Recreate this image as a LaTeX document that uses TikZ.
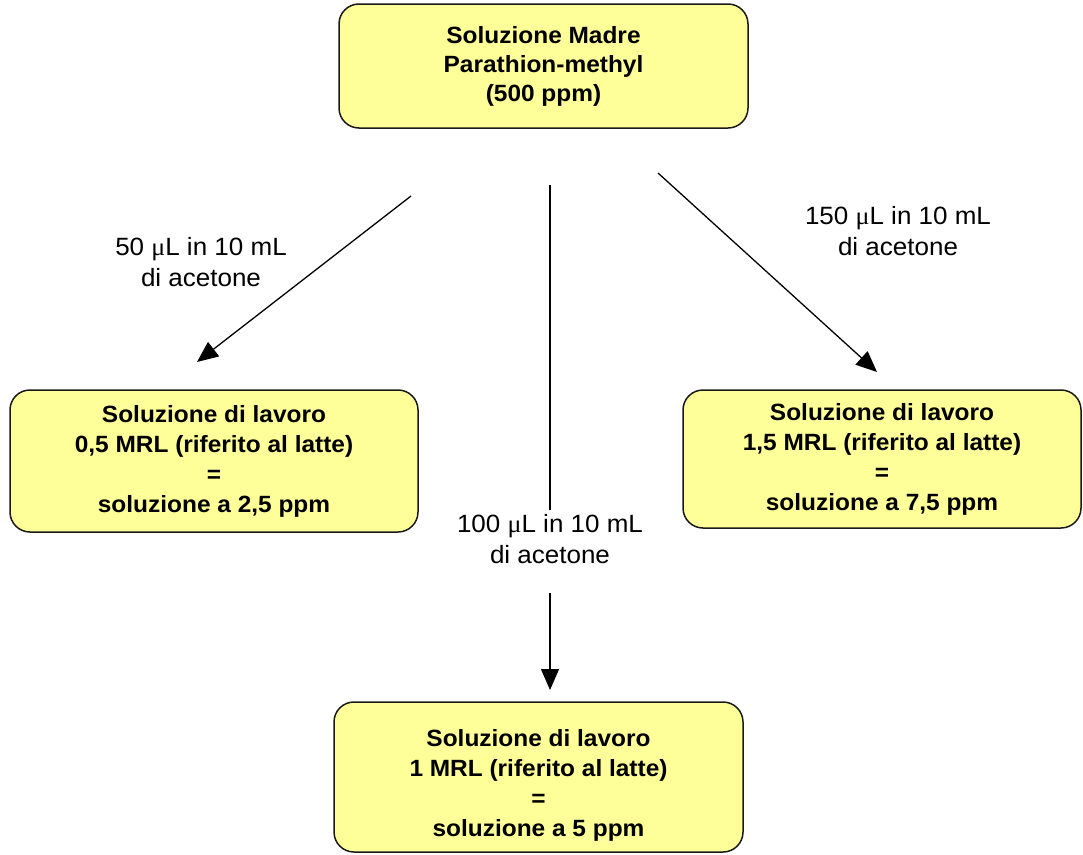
\documentclass[tikz,border=0pt]{standalone}
\usepackage{fontspec}
\setmainfont[FakeStretch=1.04]{Liberation Sans}
\newfontfamily\mufont[FakeStretch=1.04]{Liberation Serif}
\usetikzlibrary{arrows.meta}
\definecolor{boxfill}{RGB}{255,255,153}
\newcommand{\microL}{{\mufont μ}L}

\begin{document}
\begin{tikzpicture}[x=1pt,y=-1pt,
  solbox/.style={draw=black!90, line width=1.5pt, fill=boxfill, rounded corners=20pt,
    align=center, inner sep=0pt, font=\fontsize{23.5}{30}\selectfont\bfseries},
  dilution/.style={align=center, inner sep=0pt, font=\fontsize{25}{31}\selectfont},
  flow/.style={line width=1.3pt, -{Triangle[length=21pt,width=18pt]}}]
\useasboundingbox (0,0) rectangle (1083,854);

% stock and working solutions
\node[solbox, minimum width=409pt, minimum height=124pt,
      font=\fontsize{23.5}{29}\selectfont\bfseries] (madre) at (543.5,66)
  {Soluzione Madre\\Parathion-methyl\\(500 ppm)\rule[-4pt]{0pt}{0pt}};
\node[solbox, minimum width=408pt, minimum height=142pt] (low) at (214,461)
  {Soluzione di lavoro\\0,5 MRL (riferito al latte)\\=\\soluzione a 2,5 ppm};
\node[solbox, minimum width=398pt, minimum height=138pt] (high) at (882,459)
  {Soluzione di lavoro\\1,5 MRL (riferito al latte)\\=\\soluzione a 7,5 ppm};
\node[solbox, minimum width=409pt, minimum height=150pt] (mid) at (538.5,777)
  {\rule{0pt}{33pt}Soluzione di lavoro\\1 MRL (riferito al latte)\\=\\soluzione a 5 ppm};

% dilution labels
\node[dilution] (dlow) at (201,262) {50 \microL\ in 10 mL\\di acetone};
\node[dilution] (dhigh) at (898,231) {150 \microL\ in 10 mL\\di acetone};
\node[dilution] (dmid) at (550,539) {100 \microL\ in 10 mL\\di acetone};

% arrow end points
\coordinate (lowS) at (411,196);
\coordinate (lowE) at (197,362);
\coordinate (highS) at (658,173);
\coordinate (highE) at (877,372);
\coordinate (midS) at (550,185);
\coordinate (midA) at (550,510);
\coordinate (midB) at (550,593);
\coordinate (midE) at (550,690);

\draw[flow] (lowS) -- (lowE);
\draw[flow] (highS) -- (highE);
\draw[line width=1.3pt] (midS) -- (midA);
\draw[flow] (midB) -- (midE);
\end{tikzpicture}
\end{document}
